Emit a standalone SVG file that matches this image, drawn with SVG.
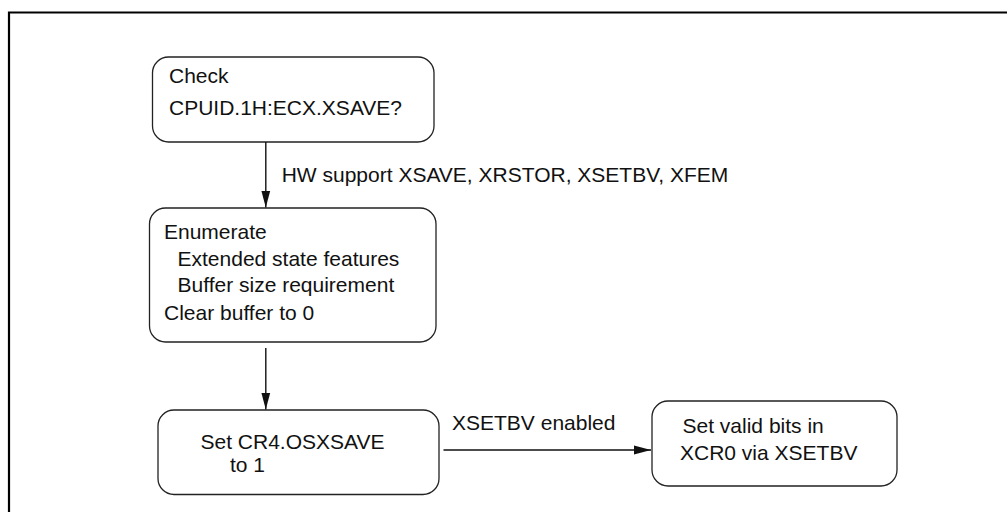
<svg xmlns="http://www.w3.org/2000/svg" width="1007" height="512" viewBox="0 0 1007 512">
<style>
.box{fill:#fff;stroke:#222;stroke-width:1.3}
.t{font-family:"Liberation Sans",Arial,sans-serif;font-size:21px;fill:#111}
.c{stroke:#111;stroke-width:1.4;fill:none}
</style>
<defs>
<marker id="ah" markerUnits="userSpaceOnUse" markerWidth="18" markerHeight="10" refX="17" refY="5" orient="auto">
<path d="M0,0.5 L17,5 L0,9.5 Z" fill="#111"/>
</marker>
</defs>
<rect width="1007" height="512" fill="#fff"/>
<path d="M9,512 V12.5 H1007" fill="none" stroke="#000" stroke-width="2.2"/>
<g id="n1">
<rect class="box" x="152.5" y="57" width="281.5" height="85" rx="16"/>
<text class="t" x="169" y="82.5">Check</text>
<text class="t" x="169" y="114.5">CPUID.1H:ECX.XSAVE?</text>
</g>
<g id="n2">
<rect class="box" x="149.5" y="208" width="286.5" height="134" rx="16"/>
<text class="t" x="164" y="238.5">Enumerate</text>
<text class="t" x="177.5" y="266">Extended state features</text>
<text class="t" x="177.5" y="292">Buffer size requirement</text>
<text class="t" x="164" y="320">Clear buffer to 0</text>
</g>
<g id="n3">
<rect class="box" x="158" y="410" width="281" height="84.5" rx="16"/>
<text class="t" x="200.5" y="449">Set CR4.OSXSAVE</text>
<text class="t" x="230" y="471.5">to 1</text>
</g>
<g id="n4">
<rect class="box" x="652" y="401" width="245" height="85" rx="16"/>
<text class="t" x="682.5" y="432.5">Set valid bits in</text>
<text class="t" x="680" y="460">XCR0 via XSETBV</text>
</g>
<g id="connectors">
<path class="c" d="M265.8,142 V207.5" marker-end="url(#ah)"/>
<text class="t" x="281.7" y="181.7">HW support XSAVE, XRSTOR, XSETBV, XFEM</text>
<path class="c" d="M265.8,348 V409.5" marker-end="url(#ah)"/>
<path class="c" d="M443.5,450 H651" marker-end="url(#ah)"/>
<text class="t" x="452" y="430">XSETBV enabled</text>
</g>
</svg>
